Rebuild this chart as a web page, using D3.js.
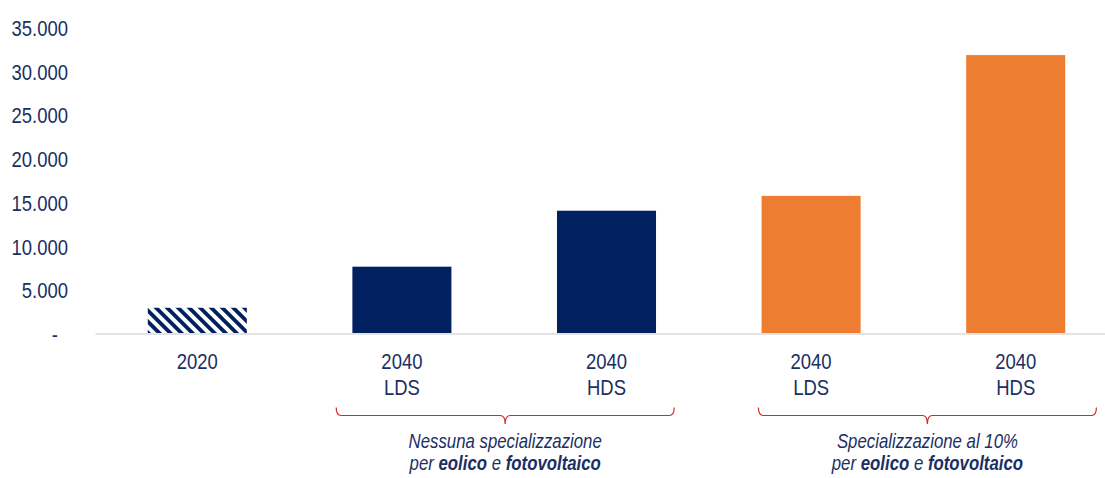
<!DOCTYPE html>
<html>
<head>
<meta charset="utf-8">
<script src="https://cdn.jsdelivr.net/npm/d3@7/dist/d3.min.js"></script>
<style>
  html, body { margin: 0; padding: 0; background: #ffffff; }
  svg { display: block; }
  text { font-family: "Liberation Sans", Arial, sans-serif; fill: #1b2f63; }
</style>
</head>
<body>
<svg id="chart" width="1105" height="478"></svg>
<script>
// Capacity per scenario
const categories = ["2020", "2040 LDS A", "2040 HDS A", "2040 LDS B", "2040 HDS B"];
const labelLine1 = ["2020", "2040", "2040", "2040", "2040"];
const labelLine2 = ["", "LDS", "HDS", "LDS", "HDS"];
const values = [3000, 7700, 14100, 15800, 31900];
const barKinds = ["hatch", "navy", "navy", "orange", "orange"];
const yTicks = [0, 5000, 10000, 15000, 20000, 25000, 30000, 35000];

// Scenario groups shown with a brace under the axis
const groupMembers = [["2040 LDS A", "2040 HDS A"], ["2040 LDS B", "2040 HDS B"]];
const groupTitle = ["Nessuna specializzazione", "Specializzazione al 10%"];

const NAVY = "#00205f";
const ORANGE = "#ed7d31";
const RED = "#cf2a32";
const NARROW = 0.84; // condensed look for the sans face

const svg = d3.select("#chart");

const x = d3.scaleBand().domain(categories).range([95, 1118]).paddingInner(0.516).paddingOuter(0.258);
const y = d3.scaleLinear().domain([0, 35000]).range([334, 28]);

// Diagonal hatch for the historical bar
const defs = svg.append("defs");
const pat = defs.append("pattern")
  .attr("id", "hatch")
  .attr("patternUnits", "userSpaceOnUse")
  .attr("width", 7.8).attr("height", 7.8)
  .attr("patternTransform", "rotate(-45)");
pat.append("rect").attr("width", 7.8).attr("height", 7.8).attr("fill", "#ffffff");
pat.append("rect").attr("x", 0).attr("y", 0).attr("width", 3.9).attr("height", 7.8).attr("fill", NAVY);

// Y axis (labels only)
const fmt = v => v === 0 ? "-" : d3.format(",")(v).replace(/,/g, ".");
const yAxis = d3.axisLeft(y).tickValues(yTicks).tickFormat(fmt).tickSize(0).tickPadding(0);
const gy = svg.append("g").attr("transform", "translate(68,0)").call(yAxis);
gy.select(".domain").remove();
gy.selectAll("text")
  .attr("fill", "#1b2f63")
  .style("font-size", "22px")
  .attr("x", d => d === 0 ? -12 : 0)
  .attr("dy", "0.34em")
  .attr("transform", `scale(${NARROW},1)`);

// Bars
svg.append("g").selectAll("rect")
  .data(categories)
  .join("rect")
  .attr("x", d => x(d))
  .attr("width", x.bandwidth())
  .attr("y", (d, i) => y(values[i]))
  .attr("height", (d, i) => y(0) - y(values[i]))
  .attr("fill", (d, i) => barKinds[i] === "hatch" ? "url(#hatch)" : barKinds[i] === "navy" ? NAVY : ORANGE);

// Baseline
const xAxis = d3.axisBottom(x).tickSize(0).tickFormat("");
const gx = svg.append("g").attr("transform", "translate(0,333.5)").call(xAxis);
gx.select(".domain").attr("stroke", "#e3e3e3").attr("stroke-width", 2);

// Category labels
const labels = svg.append("g").selectAll("text")
  .data(categories)
  .join("text")
  .attr("text-anchor", "middle")
  .style("font-size", "22px")
  .attr("transform", d => `translate(${x(d) + x.bandwidth() / 2},0) scale(${NARROW},1)`);
labels.append("tspan").attr("x", 0).attr("y", 369).text((d, i) => labelLine1[i]);
labels.append("tspan").attr("x", 0).attr("y", 395).text((d, i) => labelLine2[i]);

// Group braces and captions
const braceOffset = [1, 14];
groupMembers.forEach((members, gi) => {
  const cx = (x(members[0]) + x(members[1]) + x.bandwidth()) / 2 + braceOffset[gi];
  const half = 169;
  const x1 = cx - half, x2 = cx + half;
  const yTop = 407.5, yLine = 415.5, yTip = 424;
  const p = d3.path();
  p.moveTo(x1, yTop);
  p.quadraticCurveTo(x1, yLine, x1 + 5, yLine);
  p.lineTo(cx - 5, yLine);
  p.quadraticCurveTo(cx, yLine, cx, yTip);
  p.quadraticCurveTo(cx, yLine, cx + 5, yLine);
  p.lineTo(x2 - 5, yLine);
  p.quadraticCurveTo(x2, yLine, x2, yTop);
  svg.append("path").attr("d", p.toString())
    .attr("fill", "none").attr("stroke", RED).attr("stroke-width", 1.2);

  const t = svg.append("text")
    .attr("text-anchor", "middle")
    .style("font-size", "20px")
    .style("font-style", "italic")
    .attr("transform", `translate(${cx},0) scale(${NARROW},1)`);
  t.append("tspan").attr("x", 0).attr("y", 448).text(groupTitle[gi]);
  const l2 = t.append("tspan").attr("x", 0).attr("y", 470);
  l2.append("tspan").text("per ");
  l2.append("tspan").style("font-weight", "bold").text("eolico");
  l2.append("tspan").text(" e ");
  l2.append("tspan").style("font-weight", "bold").text("fotovoltaico");
});
</script>
</body>
</html>
